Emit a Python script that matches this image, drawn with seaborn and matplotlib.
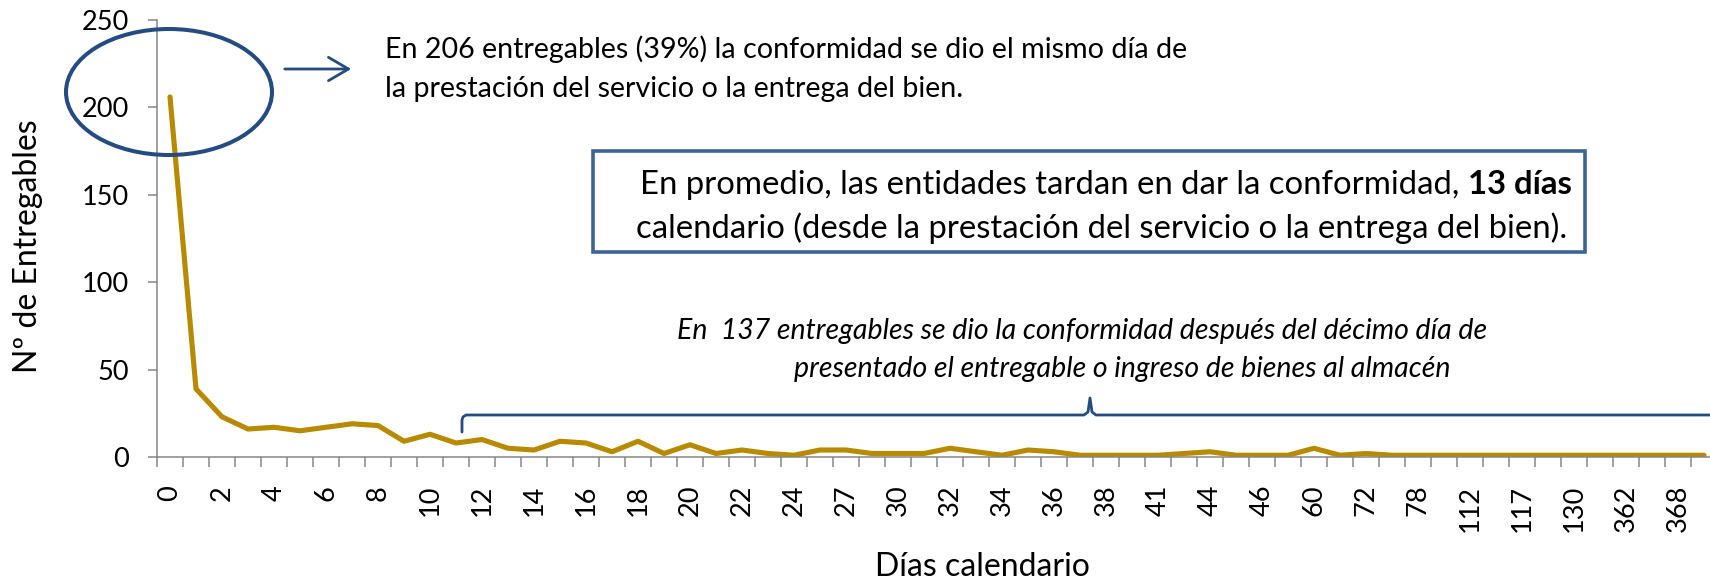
import numpy as np
import pandas as pd
import matplotlib
matplotlib.use("Agg")
import matplotlib.pyplot as plt
import seaborn as sns
from matplotlib.patches import Ellipse, Rectangle, FancyArrowPatch
from matplotlib.lines import Line2D

# ---------------- data ----------------
days = ['0', '1', '2', '3', '4', '5', '6', '7', '8', '9', '10', '11', '12', '13',
        '14', '15', '16', '17', '18', '19', '20', '21', '22', '23', '24', '25',
        '27', '28', '30', '31', '32', '33', '34', '35', '36', '37', '38', '39',
        '41', '42', '44', '45', '46', '52', '60', '65', '72', '75', '78', '90',
        '112', '115', '117', '120', '130', '180', '362', '365', '368', '380']
counts = [206, 39, 23, 16, 17, 15, 17, 19, 18, 9, 13,
          8, 10, 5, 4, 9, 8, 3, 9, 2, 7, 2, 4, 2, 1,
          4, 4, 2, 2, 2, 5, 3, 1, 4, 3, 1, 1, 1, 1, 2, 3, 1, 1, 1, 5, 1, 2,
          1, 1, 1, 1, 1, 1, 1, 1, 1, 1, 1, 1, 1]
y_ticks = [0, 50, 100, 150, 200, 250]

x_title = "Días calendario"
y_title = "Nº de Entregables"
note_top = ["En 206 entregables (39%) la conformidad se dio el mismo día de",
            "la prestación del servicio o la entrega del bien."]
box_line1_a = "En promedio, las entidades tardan en dar la conformidad,"
box_line1_b = "13 días"
box_line2 = "calendario (desde la prestación del servicio o la entrega del bien)."
note_italic = ["En  137 entregables se dio la conformidad después del décimo día de",
               "presentado el entregable o ingreso de bienes al almacén"]

# ---------------- style ----------------
sns.set_theme(style="white")
plt.rcParams['font.family'] = ['Lato', 'DejaVu Sans']

GOLD = '#B88A00'
NAVY = '#244C82'
BOXC = '#3E6494'
AXC = '#868686'
TICK_FS = 19.5
NOTE_FS = 20.6
ITAL_FS = 20.5
BOX_FS = 23.7
LABEL_FS = 23

W, H = 1710, 582
fig = plt.figure(figsize=(W / 100, H / 100), dpi=100)
fig.patch.set_facecolor('white')


def fx(x):
    return x / W


def fy(y):
    return 1 - y / H


ax = fig.add_axes([fx(157), fy(457), 1560 / W, 437 / H])
df = pd.DataFrame({'pos': np.arange(len(days)), 'n': counts})
sns.lineplot(data=df, x='pos', y='n', ax=ax, color=GOLD, lw=3.7)

ax.set_xlim(-0.5, len(days) - 0.5)
ax.set_ylim(0, 250)
ax.set_yticks(y_ticks)
ax.set_yticklabels([str(v) for v in y_ticks], fontsize=TICK_FS, color='black')
ax.set_xticks(np.arange(0, len(days), 2))
ax.set_xticklabels(days[::2], rotation=90, fontsize=TICK_FS, color='black')
ax.set_xticks(np.arange(-0.5, len(days), 1), minor=True)
ax.tick_params(axis='x', which='major', length=0, pad=20)
ax.tick_params(axis='x', which='minor', length=7.2, width=1.1, color=AXC, direction='out')
ax.tick_params(axis='y', which='major', length=6.5, width=1.1, color=AXC, direction='out', pad=14)
ax.tick_params(left=True, bottom=True, which='both')
for s in ['top', 'right']:
    ax.spines[s].set_visible(False)
for s in ['left', 'bottom']:
    ax.spines[s].set_color(AXC)
    ax.spines[s].set_linewidth(1.1)
ax.grid(False)

ax.set_xlabel(x_title, fontsize=LABEL_FS, color='black')
ax.xaxis.set_label_coords((982 - 157) / 1560, -(576 - 457) / 437)
ax.xaxis.label.set_va('baseline')
ax.set_ylabel(y_title, fontsize=LABEL_FS, color='black')
ax.yaxis.set_label_coords(-(157 - 43) / 1560, (457 - 246) / 437)

# ---------------- annotations ----------------
ell = Ellipse((fx(169), fy(92)), 206 / W, 126 / H, transform=fig.transFigure,
              fill=False, edgecolor=NAVY, lw=2.9, zorder=5)
fig.add_artist(ell)

arr = FancyArrowPatch((fx(282), fy(69)), (fx(354), fy(69)), transform=fig.transFigure,
                      arrowstyle='->,head_length=0.72,head_width=0.42', mutation_scale=20,
                      color=NAVY, lw=2.0)
fig.add_artist(arr)

fig.text(fx(385), fy(58), note_top[0], fontsize=NOTE_FS, va='baseline', ha='left', color='black')
fig.text(fx(385), fy(97), note_top[1], fontsize=NOTE_FS, va='baseline', ha='left', color='black')

rect = Rectangle((fx(593), fy(252)), (1585 - 593) / W, (252 - 151) / H,
                 transform=fig.transFigure, facecolor='white', edgecolor=BOXC, lw=2.6, zorder=4)
fig.add_artist(rect)

r = fig.canvas.get_renderer()
ta = fig.text(0, fy(194), box_line1_a, fontsize=BOX_FS, va='baseline', ha='left', color='black', zorder=6)
tb = fig.text(0, fy(194), box_line1_b, fontsize=BOX_FS, va='baseline', ha='left', color='black',
              weight='bold', zorder=6)
t1 = fig.text(0, 0, "n n", fontsize=BOX_FS)
t2 = fig.text(0, 0, "nn", fontsize=BOX_FS)
gap = t1.get_window_extent(r).width - t2.get_window_extent(r).width
t1.remove()
t2.remove()
wa = ta.get_window_extent(r).width
wb = tb.get_window_extent(r).width
x0 = 1106 - (wa + gap + wb) / 2
ta.set_x(fx(x0))
tb.set_x(fx(x0 + wa + gap))
fig.text(fx(1102), fy(238), box_line2, fontsize=BOX_FS, va='baseline', ha='center', color='black', zorder=6)

fig.text(fx(1082), fy(339), note_italic[0], fontsize=ITAL_FS, style='italic', va='baseline', ha='center',
         color='black')
fig.text(fx(1122), fy(377), note_italic[1], fontsize=ITAL_FS, style='italic', va='baseline', ha='center',
         color='black')

brace_px = [(462, 432), (462, 420), (463, 417), (466, 415), (1084, 415), (1088, 412),
            (1090, 398), (1092, 412), (1096, 415), (1720, 415)]
fig.add_artist(Line2D([fx(p[0]) for p in brace_px], [fy(p[1]) for p in brace_px],
                      transform=fig.transFigure, color=NAVY, lw=2.0, solid_joinstyle='round'))

fig.savefig('out.png', dpi=100, facecolor='white')
